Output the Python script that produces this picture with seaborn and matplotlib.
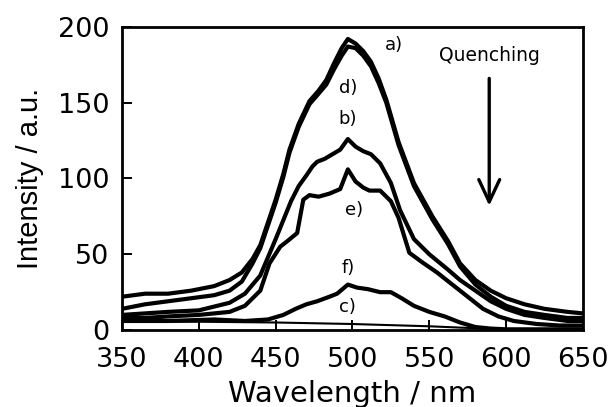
import matplotlib
matplotlib.use("Agg")
import matplotlib.pyplot as plt
from matplotlib import font_manager
import seaborn as sns
import pandas as pd

# ---- data ----
wl_a = [350, 365, 380, 395, 410, 420, 428, 435, 440, 444, 450, 455, 459, 465, 472, 478, 483, 488, 493, 497, 502, 507, 512, 517, 522, 530, 540, 552, 562, 570, 580, 590, 600, 612, 625, 640, 650]
int_a = [22, 24, 24, 26, 29, 33, 38, 47, 56, 68, 86, 103, 119, 136, 151, 158, 165, 176, 186, 192, 189, 184, 177, 166, 152, 124, 97, 75, 59, 44, 33, 26, 21, 17, 14, 12, 11]

wl_d = [350, 365, 380, 395, 410, 420, 428, 435, 440, 444, 450, 455, 459, 465, 472, 478, 483, 488, 493, 497, 502, 507, 512, 517, 522, 530, 540, 552, 562, 570, 580, 590, 600, 612, 625, 640, 650]
int_d = [14, 17, 19, 21, 23, 26, 32, 44, 54, 66, 84, 101, 117, 134, 149, 156, 162, 172, 181, 187, 186, 181, 174, 163, 150, 122, 95, 73, 57, 42, 30, 22, 16, 12, 10, 8, 8]

wl_b = [350, 365, 380, 400, 420, 430, 440, 450, 460, 465, 470, 474, 477, 482, 487, 492, 497, 502, 507, 512, 518, 525, 531, 540, 550, 562, 570, 580, 590, 600, 612, 625, 640, 650]
int_b = [10, 11, 12, 13, 18, 24, 36, 60, 85, 95, 102, 108, 111, 113, 116, 119, 126, 121, 118, 116, 110, 97, 79, 60, 50, 40, 33, 26, 19, 14, 10, 8, 6, 6]

wl_e = [350, 365, 380, 400, 420, 430, 440, 446, 453, 458, 464, 468, 472, 478, 485, 492, 497, 502, 507, 511, 518, 525, 530, 537, 545, 555, 565, 575, 585, 595, 605, 620, 635, 650]
int_e = [8, 8, 9, 10, 12, 16, 26, 44, 55, 59, 64, 86, 89, 88, 90, 93, 106, 98, 94, 92, 92, 85, 74, 51, 45, 38, 30, 22, 14, 9, 6, 4, 3, 3]

wl_f = [350, 380, 410, 430, 445, 455, 463, 470, 477, 485, 490, 497, 503, 510, 518, 525, 532, 540, 550, 560, 570, 580, 590, 600, 620, 650]
int_f = [6, 6, 7, 6, 7, 10, 14, 17, 19, 22, 24, 30, 28, 27, 25, 25, 21, 16, 12, 9, 5, 2, 1, 0.5, 0.5, 0.5]

wl_c = [350, 400, 450, 500, 550, 580, 600, 620, 650]
int_c = [5.5, 5.5, 5, 4, 2.5, 1.2, 0.6, 0.3, 0.2]

curve_labels = ["a)", "d)", "b)", "e)", "f)", "c)"]
label_wl = [527, 497, 497, 501, 497, 497]
label_int = [188, 160, 139, 79, 41, 15]

x_ticks = [350, 400, 450, 500, 550, 600, 650]
y_ticks = [0, 50, 100, 150, 200]

# ---- plotting ----
sns.set_style("ticks")
plt.rcParams["font.family"] = ["DejaVu Sans"]
for k in ["text.color", "axes.labelcolor", "xtick.color", "ytick.color", "axes.edgecolor"]:
    plt.rcParams[k] = "black"

try:
    font_manager.findfont(font_manager.FontProperties(family="Liberation Sans Narrow"),
                          fallback_to_default=False)
    ylab_family, ylab_size = ["Liberation Sans Narrow", "DejaVu Sans"], 24
except Exception:
    ylab_family, ylab_size = ["Liberation Sans", "DejaVu Sans"], 21

fig = plt.figure(figsize=(6.13, 4.07), dpi=100)
ax = fig.add_axes([0.199, 0.189, 0.752, 0.745])

series = [(wl_a, int_a, 3.0), (wl_d, int_d, 3.0), (wl_b, int_b, 3.0),
          (wl_e, int_e, 3.0), (wl_f, int_f, 3.0), (wl_c, int_c, 1.5)]
for xs, ys, lw in series:
    df = pd.DataFrame({"wl": xs, "I": ys})
    sns.lineplot(data=df, x="wl", y="I", ax=ax, color="black", linewidth=lw,
                 estimator=None, sort=False)

for t, xw, yi in zip(curve_labels, label_wl, label_int):
    ax.text(xw, yi, t, fontsize=13, ha="center", va="center")

ax.text(589, 181, "Quenching", fontsize=13.5, ha="center", va="center")
ax.annotate("", xy=(589, 82), xytext=(589, 166),
            arrowprops=dict(arrowstyle="->,head_length=1.6,head_width=0.75",
                            color="black", lw=2.4, shrinkA=0, shrinkB=0))

ax.set_xlim(350, 650)
ax.set_ylim(0, 200)
ax.set_xticks(x_ticks)
ax.set_yticks(y_ticks)
ax.tick_params(direction="in", length=7, width=1.4, labelsize=19.5)
ax.tick_params(axis="x", pad=12)
ax.tick_params(axis="y", pad=9)
for s in ax.spines.values():
    s.set_linewidth(2.0)
    s.set_visible(True)

ax.set_xlabel("Wavelength / nm", fontsize=21, labelpad=5)
ax.set_ylabel("Intensity / a.u.", fontsize=ylab_size, labelpad=10, family=ylab_family)

fig.savefig("out.png", dpi=100)
